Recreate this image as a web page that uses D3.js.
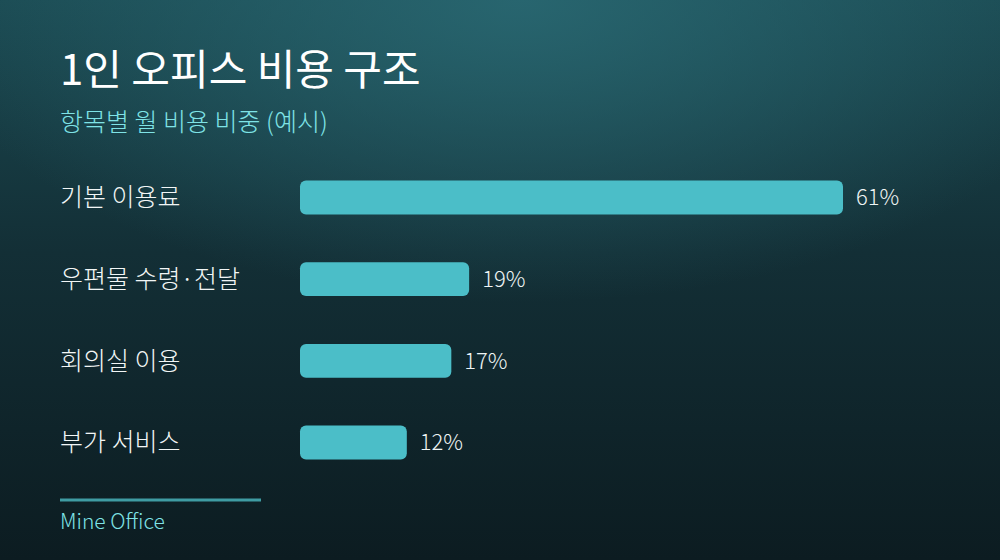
<!DOCTYPE html>
<html>
<head>
<meta charset="utf-8">
<script src="https://cdn.jsdelivr.net/npm/d3@7"></script>
<style>
  html, body { margin: 0; padding: 0; background: #0e1f24; }
  svg { display: block; font-family: "Noto Sans CJK KR", "Noto Sans", sans-serif; }
</style>
</head>
<body>
<svg id="chart" width="1000" height="560"></svg>
<script>
// data
var categories = ["기본 이용료", "우편물 수령·전달", "회의실 이용", "부가 서비스"];
var shares = [61, 19, 17, 12];
var title = "1인 오피스 비용 구조";
var subtitle = "항목별 월 비용 비중 (예시)";
var source = "Mine Office";

var svg = d3.select("#chart");
var defs = svg.append("defs");

// background: dark teal with a soft glow at the top
var lin = defs.append("linearGradient").attr("id", "bg").attr("x1", 0).attr("y1", 0).attr("x2", 0).attr("y2", 1);
lin.append("stop").attr("offset", "0%").attr("stop-color", "#1b4a52");
lin.append("stop").attr("offset", "45%").attr("stop-color", "#132f36");
lin.append("stop").attr("offset", "100%").attr("stop-color", "#0c1c21");
svg.append("rect").attr("width", 1000).attr("height", 560).attr("fill", "url(#bg)");

var glow = defs.append("radialGradient").attr("id", "glow")
    .attr("cx", 0.52).attr("cy", 0).attr("r", 0.6)
    .attr("gradientTransform", "translate(0.52,0) scale(1,0.9) translate(-0.52,0)");
glow.append("stop").attr("offset", "0%").attr("stop-color", "#2a6a74").attr("stop-opacity", 0.85);
glow.append("stop").attr("offset", "100%").attr("stop-color", "#2a6a74").attr("stop-opacity", 0);
svg.append("rect").attr("width", 1000).attr("height", 560).attr("fill", "url(#glow)");

// titles
svg.append("text").attr("x", 60).attr("y", 85)
    .attr("fill", "#ffffff").attr("font-size", 42).attr("font-weight", 400)
    .text(title);
svg.append("text").attr("x", 60).attr("y", 131)
    .attr("fill", "#7fe3e6").attr("font-size", 25).attr("font-weight", 300)
    .text(subtitle);

// scales
var x = d3.scaleLinear().domain([0, 61]).range([300, 843]);
var y = d3.scaleBand().domain(categories).range([156, 484]).paddingInner(0.585).paddingOuter(0.3);

var rows = svg.append("g").selectAll("g").data(categories).join("g");

rows.append("text")
    .attr("x", 60)
    .attr("y", function(d) { return y(d) + y.bandwidth() / 2; })
    .attr("dy", "0.35em")
    .attr("fill", "#f2f6f6").attr("font-size", 25).attr("font-weight", 300)
    .text(function(d) { return d; });

rows.append("rect")
    .attr("x", x(0))
    .attr("y", function(d) { return y(d); })
    .attr("width", function(d, i) { return x(shares[i]) - x(0); })
    .attr("height", y.bandwidth())
    .attr("rx", 6).attr("ry", 6)
    .attr("fill", "#4bbec8");

rows.append("text")
    .attr("x", function(d, i) { return x(shares[i]) + 13; })
    .attr("y", function(d) { return y(d) + y.bandwidth() / 2; })
    .attr("dy", "0.35em")
    .attr("fill", "#eef4f4").attr("font-size", 22).attr("font-weight", 300)
    .text(function(d, i) { return shares[i] + "%"; });

// footer
svg.append("line").attr("x1", 60).attr("x2", 261).attr("y1", 500).attr("y2", 500)
    .attr("stroke", "#3f9ca3").attr("stroke-width", 3);
svg.append("text").attr("x", 60).attr("y", 529)
    .attr("fill", "#7fe3e6").attr("font-size", 21).attr("font-weight", 300)
    .text(source);
</script>
</body>
</html>
